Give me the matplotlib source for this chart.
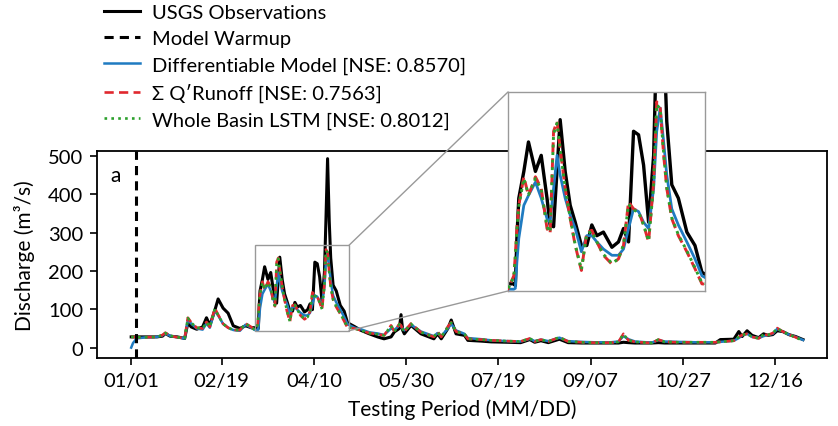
import matplotlib.pyplot as plt
from matplotlib.patches import Rectangle, ConnectionPatch

plt.rcParams['font.family'] = ['Lato', 'DejaVu Sans']

# day of the testing year (0 = 01/01)
days = [0, 1, 3, 8, 14, 17, 18.5, 21, 25, 29, 30.7, 32.5, 35.5, 38.7, 40.8, 42.6, 45.3, 47.1, 49.8, 52.5, 55.3, 58.9, 62, 65,
        67.0, 68.5, 68.9, 69.3, 69.8, 71.1, 72.3, 74.1, 75.6, 77.1, 77.9, 78.8, 79.7, 80.5, 81.8, 83.1, 84.4, 86.0, 87.4, 88.7,
        90.0, 91.7, 93.9, 95.6, 96.9, 98.2, 99.5, 100.8, 102.1, 103.4, 104.7, 105.5, 106.4, 107.3, 108.1, 109.4, 111.1, 113.3,
        115.4, 117.2,
        121, 124.5, 129, 133.5, 137, 140.8, 142.6, 145.3, 146.2, 147.1, 148, 151.6, 157, 164, 166, 168, 171.6, 173.4, 176,
        180.6, 182.4, 189.7, 195, 204, 211, 216, 218.6, 222, 226, 232, 236.7, 244, 251, 260, 264, 266.7, 269.4, 273, 282,
        285.7, 289, 296.5, 305.6, 316.5, 319.2, 326.5, 329.2, 331, 333.7, 336.4, 340, 342.6, 345, 347.6, 350, 353, 356.3,
        360, 364]

usgs_obs = [28, 28, 28, 28, 28, 30, 37, 30, 28, 24, 65, 54, 48, 54, 78, 58, 97, 127, 103, 90, 57, 50, 57, 52,
            52, 52, 50, 103, 148, 178, 211, 178, 196, 148, 118, 116, 180, 236, 178, 140, 121, 95, 95, 118,
            106, 110, 93, 99, 114, 99, 223, 219, 185, 121, 196, 330, 493, 330, 234, 163, 148, 110, 95, 65,
            55, 45, 36, 28, 23, 28, 41, 50, 86, 45, 36, 58, 36, 23, 36, 23, 50, 72, 36, 32, 19, 17, 15, 14, 13,
            21, 14, 18, 13, 22, 13, 12, 12, 12, 12, 14, 13, 12, 12, 13, 12, 12, 12, 12, 21, 22, 42, 29, 44, 32,
            26, 36, 32, 34, 44, 42, 34, 29, 21]

diff_model = [0, 12, 24, 27, 28, 32, 37, 31, 27, 24, 72, 63, 50, 47, 63, 52, 97, 84, 62, 52, 46, 44, 60, 52,
              46, 46, 47, 76, 103, 140, 151, 166, 148, 125, 121, 159, 196, 174, 148, 129, 114, 88, 106, 106,
              99, 91, 84, 84, 91, 114, 136, 133, 121, 114, 159, 223, 249, 211, 174, 136, 118, 99, 80, 61,
              52, 48, 40, 37, 33, 50, 46, 58, 56, 50, 45, 60, 42, 30, 38, 30, 50, 62, 45, 36, 25, 22, 19, 17, 16,
              23, 17, 21, 17, 26, 17, 15, 14, 14, 16, 30, 22, 16, 13, 20, 16, 15, 14, 14, 15, 18, 25, 32, 36, 28,
              25, 30, 33, 36, 49, 42, 34, 28, 20]

q_runoff = [28, 28, 27, 27, 28, 33, 39, 31, 27, 25, 78, 66, 52, 50, 67, 54, 103, 86, 62, 52, 46, 46, 63, 54,
            46, 61, 84, 114, 140, 172, 151, 172, 159, 114, 108, 223, 234, 204, 159, 125, 95, 67, 110, 112,
            99, 84, 74, 80, 95, 144, 136, 133, 118, 99, 166, 256, 249, 196, 159, 125, 106, 88, 69, 52,
            50, 45, 38, 35, 32, 58, 42, 62, 58, 48, 42, 63, 40, 28, 42, 28, 55, 66, 42, 35, 23, 21, 19, 17, 16,
            24, 16, 21, 16, 27, 16, 14, 13, 13, 15, 36, 19, 15, 12, 21, 15, 14, 14, 14, 15, 18, 28, 33, 36, 28,
            24, 34, 33, 38, 51, 42, 34, 27, 18]

lstm = [28, 28, 27, 27, 28, 33, 38, 31, 27, 25, 77, 65, 52, 50, 66, 54, 101, 85, 62, 52, 46, 46, 62, 54,
        46, 60, 82, 112, 139, 170, 152, 170, 158, 116, 110, 220, 232, 203, 160, 126, 96, 68, 108, 111,
        99, 85, 75, 80, 96, 141, 135, 132, 118, 100, 163, 253, 248, 198, 160, 126, 107, 89, 70, 53,
        50, 45, 38, 35, 32, 57, 42, 61, 57, 48, 42, 62, 40, 28, 41, 28, 54, 65, 42, 35, 23, 21, 19, 17, 16,
        24, 16, 21, 16, 27, 16, 14, 13, 13, 15, 35, 19, 15, 12, 21, 15, 14, 14, 14, 15, 18, 28, 33, 36, 28,
        24, 34, 33, 38, 50, 42, 34, 27, 18]

tick_days = [0, 49, 99, 149, 199, 249, 299, 349]
tick_labels = ['01/01', '02/19', '04/10', '05/30', '07/19', '09/07', '10/27', '12/16']
warmup_day = 2.5
zoom_x = (67, 118)
zoom_y = (44, 267)


def draw_series(ax, lw_scale=1.0):
    ax.plot(days, usgs_obs, color='black', lw=2.2 * lw_scale, label='USGS Observations', zorder=2)
    ax.plot(days, diff_model, color='#1f7bc1', lw=1.8 * lw_scale,
            label='Differentiable Model [NSE: 0.8570]', zorder=3)
    ax.plot(days, q_runoff, color='#e0282e', lw=1.9 * lw_scale, ls=(0, (3.5, 2)),
            label='Σ Q′Runoff [NSE: 0.7563]', zorder=4)
    ax.plot(days, lstm, color='#2ca02c', lw=1.9 * lw_scale, ls=(0, (1, 1.6)),
            label='Whole Basin LSTM [NSE: 0.8012]', zorder=5)


fig = plt.figure(figsize=(8.38, 4.27), dpi=100)
ax = fig.add_axes([0.1158, 0.1593, 0.8711, 0.4847])

draw_series(ax)
ax.axvline(warmup_day, color='black', lw=2.2, ls=(0, (3, 2)), label='Model Warmup', zorder=6)

ax.set_xlim(-18.5, 377)
ax.set_ylim(-27, 513)
ax.set_xticks(tick_days)
ax.set_xticklabels(tick_labels)
ax.set_yticks([0, 100, 200, 300, 400, 500])
ax.tick_params(labelsize=14.5, length=5, width=1.2, pad=5)
for s in ax.spines.values():
    s.set_linewidth(1.3)
ax.set_xlabel('Testing Period (MM/DD)', fontsize=15, labelpad=7)
ax.set_ylabel('Discharge (m³/s)', fontsize=15, labelpad=9)
ax.text(0.018, 0.93, 'a', transform=ax.transAxes, fontsize=15, va='top')

# zoom rectangle
ax.add_patch(Rectangle((zoom_x[0], zoom_y[0]), zoom_x[1] - zoom_x[0], zoom_y[1] - zoom_y[0],
                       fill=False, edgecolor='#999999', lw=1, zorder=7))

# inset
axin = fig.add_axes([0.6062, 0.3162, 0.2351, 0.4660])
draw_series(axin, 1.1)
axin.set_xlim(*zoom_x)
axin.set_ylim(*zoom_y)
axin.set_xticks([])
axin.set_yticks([])
for s in axin.spines.values():
    s.set_edgecolor('#999999')
    s.set_linewidth(1)

for ya, yb in [(zoom_y[1], 1), (zoom_y[0], 0)]:
    con = ConnectionPatch(xyA=(zoom_x[1], ya), coordsA=ax.transData,
                          xyB=(0, yb), coordsB=axin.transAxes,
                          color='#999999', lw=1)
    fig.add_artist(con)

# legend above the axes
h, l = ax.get_legend_handles_labels()
order = ['USGS Observations', 'Model Warmup', 'Differentiable Model [NSE: 0.8570]',
         'Σ Q′Runoff [NSE: 0.7563]', 'Whole Basin LSTM [NSE: 0.8012]']
hd = dict(zip(l, h))
fig.legend([hd[k] for k in order], order, loc='upper left', bbox_to_anchor=(0.124, 0.988),
           frameon=False, fontsize=14.5, handlelength=1.8, handletextpad=0.6,
           labelspacing=0.45, borderpad=0, borderaxespad=0)

fig.savefig('out.png', dpi=100)
